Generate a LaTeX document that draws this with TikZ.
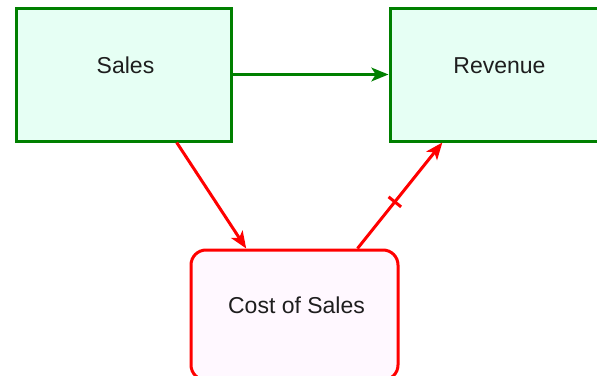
\documentclass[tikz,border=0pt]{standalone}
\usepackage{fontspec}
\setmainfont{Liberation Sans}
\usetikzlibrary{arrows.meta,calc}
\definecolor{flowgreen}{RGB}{0,128,0}
\definecolor{flowred}{RGB}{255,0,0}
\definecolor{stockfill}{RGB}{230,255,244}
\definecolor{auxfill}{RGB}{255,248,255}
\definecolor{labelgray}{RGB}{30,30,30}
\tikzset{
  stock/.style={draw=flowgreen, fill=stockfill, line width=3pt,
    minimum width=215pt, minimum height=133pt, inner sep=0pt},
  aux/.style={draw=flowred, fill=auxfill, line width=3pt, rounded corners=15pt,
    minimum width=207pt, minimum height=130pt, inner sep=0pt},
  caption/.style={text=labelgray, font=\fontsize{23}{27}\selectfont, inner sep=0pt},
  tip/.style={arrows={-Stealth[length=#1, width=0.8*#1, inset=0.25*#1]}},
  greenlink/.style={draw=flowgreen, line width=3pt, tip=17pt},
  redlink/.style={draw=flowred, line width=3pt, tip=17pt},
}
\begin{document}
\begin{tikzpicture}[x=1pt,y=-1pt]
  \clip (0,0) rectangle (597,375);
  \fill[white] (0,0) rectangle (597,375);
  % boxes
  \node[stock] (sales) at (123.5,74.5) {};
  \node[stock] (revenue) at (497.5,74.5) {};
  \node[aux] (cost) at (294.5,315) {};
  % texts
  \node[caption] (salesText) at ($(sales.center)+(2,-9)$) {Sales};
  \node[caption] (revenueText) at ($(revenue.center)+(2,-9)$) {Revenue};
  \node[caption] (costText) at ($(cost.center)+(2,-10)$) {Cost of Sales};
  % connectors
  \draw[greenlink] (sales) -- (revenue);
  \coordinate (s1) at ($(sales.south west)!0.744!(sales.south east)$);
  \coordinate (c1) at ($(cost.north west)!0.27!(cost.north east)$);
  \coordinate (c2) at ($(cost.north west)!0.80!(cost.north east)$);
  \coordinate (r1) at ($(revenue.south west)!0.247!(revenue.south east)$);
  \draw[redlink] (s1) -- (c1);
  \draw[redlink] (c2) -- (r1);
  % delay mark on the cost link
  \coordinate (mid) at ($(c2)!0.44!(r1)$);
  \draw[flowred, line width=3pt] ($(mid)!8pt!90:(r1)$) -- ($(mid)!8pt!-90:(r1)$);
\end{tikzpicture}
\end{document}
